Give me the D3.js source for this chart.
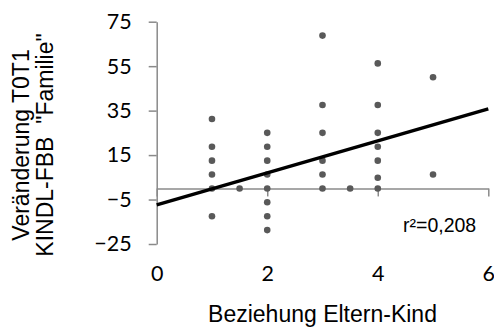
<!DOCTYPE html>
<html>
<head>
<meta charset="utf-8">
<script src="https://cdn.jsdelivr.net/npm/d3@7"></script>
<style>
  body { margin: 0; background: #fff; }
  svg { display: block; }
</style>
</head>
<body>
<script>
// Beziehung Eltern-Kind (x) vs. Veränderung T0T1 KINDL-FBB "Familie" (y)
const pointX = [1, 1, 1, 1, 1, 1, 1.5, 2, 2, 2, 2, 2, 2, 2, 2, 3, 3, 3, 3, 3, 3, 3.5, 4, 4, 4, 4, 4, 4, 4, 5, 5];
const pointY = [31.25, 18.75, 12.5, 6.25, 0, -12.5, 0, 25, 18.75, 12.5, 6.25, 0, -6.25, -12.5, -18.75,
                68.75, 37.5, 25, 12.5, 6.25, 0, 0, 56.25, 37.5, 25, 18.75, 12.5, 4.8, 0, 50, 6.25];
// Linear trend: y = intercept + slope * x
const trendIntercept = -7.4;
const trendSlope = 7.2;
const rSquaredLabel = "r²=0,208";
const xTicks = [0, 2, 4, 6];
const yTicks = [-25, -5, 15, 35, 55, 75];
const xTitle = "Beziehung Eltern-Kind";
const yTitleLines = ["Veränderung T0T1", "KINDL-FBB  \"Familie\""];

const W = 494, H = 329;
const axisColor = "#8a8a8a";
const pointColor = "#595959";
const tickFont = "Lato, 'Open Sans', sans-serif";
const titleFont = "'Liberation Sans', Arial, sans-serif";

const svg = d3.select("body").append("svg")
  .attr("width", W).attr("height", H);

const x = d3.scaleLinear().domain([0, 6]).range([156.7, 488.3]);
const y = d3.scaleLinear().domain([-25, 75]).range([244, 21.7]);
const fmt = d3.format("d");

// y axis with outward ticks on the left
const gy = svg.append("g")
  .attr("transform", `translate(${x(0)},0)`)
  .call(d3.axisLeft(y).tickValues(yTicks).tickFormat(fmt)
    .tickSize(8).tickSizeOuter(0).tickPadding(17));

// x axis line crossing at y = 0, tick marks only
const gx = svg.append("g")
  .attr("transform", `translate(0,${y(0)})`)
  .call(d3.axisBottom(x).tickValues(xTicks).tickSize(8).tickSizeOuter(0).tickFormat(""));

// x tick labels placed below the plot
const gxl = svg.append("g")
  .attr("transform", `translate(0,${y(-25)})`)
  .call(d3.axisBottom(x).tickValues(xTicks).tickFormat(fmt).tickSize(0).tickPadding(22));
gxl.select(".domain").remove();

[gy, gx].forEach(g => {
  g.select(".domain").attr("stroke", axisColor).attr("stroke-width", 1.5);
  g.selectAll(".tick line").attr("stroke", axisColor).attr("stroke-width", 1.5);
});
[gy, gxl].forEach(g => {
  g.selectAll(".tick text")
    .attr("fill", "#000")
    .style("font-family", tickFont)
    .style("font-size", "21.5px");
});

// scatter points
svg.append("g").selectAll("circle")
  .data(pointX.map((v, i) => [v, pointY[i]]))
  .join("circle")
  .attr("cx", d => x(d[0]))
  .attr("cy", d => y(d[1]))
  .attr("r", 3.3)
  .attr("fill", pointColor);

// trend line across the full x domain
const xd = x.domain();
svg.append("line")
  .attr("x1", x(xd[0])).attr("y1", y(trendIntercept + trendSlope * xd[0]))
  .attr("x2", x(xd[1])).attr("y2", y(trendIntercept + trendSlope * xd[1]))
  .attr("stroke", "#000")
  .attr("stroke-width", 3.5);

// r² annotation
svg.append("text")
  .attr("x", 403).attr("y", 232)
  .style("font-family", titleFont)
  .style("font-size", "19.5px")
  .text(rSquaredLabel);

// axis titles
svg.append("text")
  .attr("x", 322.5).attr("y", 322)
  .attr("text-anchor", "middle")
  .style("font-family", titleFont)
  .style("font-size", "23px")
  .text(xTitle);

const yTitleBaselines = [28.5, 52.5];
yTitleLines.forEach((t, i) => {
  svg.append("text")
    .attr("transform", `translate(${yTitleBaselines[i]},145) rotate(-90)`)
    .attr("text-anchor", "middle")
    .style("font-family", titleFont)
    .style("font-size", "23px")
    .style("white-space", "pre")
    .text(t);
});
</script>
</body>
</html>
